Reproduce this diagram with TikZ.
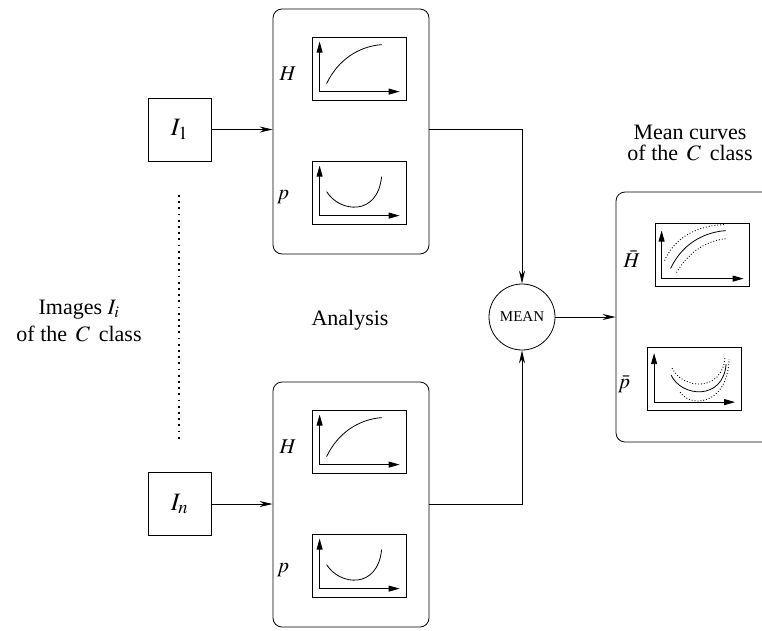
\documentclass[tikz,border=0pt]{standalone}
\usepackage{mathptmx}
\usepackage[no-math]{fontspec}
\setmainfont{Liberation Serif}
\usetikzlibrary{arrows.meta}
\usetikzlibrary{positioning}

\begin{document}
\begin{tikzpicture}[x=1pt,y=-1pt,line width=0.8pt,
  imgbox/.style={draw, minimum width=63, minimum height=63, inner sep=0pt, font=\fontsize{25}{28}\selectfont},
  panel/.style={draw, rounded corners=9pt, minimum width=156, minimum height=245, inner sep=0pt},
  plotbox/.style={draw, minimum width=94, minimum height=63, inner sep=0pt},
  meanbox/.style={draw, circle, minimum size=66, inner sep=0pt, font=\fontsize{15}{17}\selectfont},
  flow/.style={-{Stealth[length=13pt,width=6pt]}},
  axis/.style={-{Stealth[length=11pt,width=6pt,inset=0pt]}},
  dotline/.style={line width=1.3pt, dash pattern=on 1.8pt off 4.4pt},
  spread/.style={dotted, line width=0.9pt},
  curvelbl/.style={font=\fontsize{21}{24}\selectfont},
  txt/.style={align=center, font=\fontsize{22}{27}\selectfont}]
\useasboundingbox (0,0) rectangle (762,630);

% input images
\node[imgbox] (i1) at (179.5,129.5) {$I_1$};
\node[imgbox] (in) at (179.5,504) {$I_n$};
\draw[dotline] (179,195) -- (179,441);
\node[txt] (imgtxt) at (79,321) {Images $I_i$\\of the\hspace{0.4em}$C$\hspace{0.4em}class};

% analysis panels
\foreach \k/\yy in {1/131.5, 2/504.5} {
  \node[panel] (an\k) at (351,\yy) {};
  \node[plotbox] (h\k) at (359,\yy-63) {};
  \node[plotbox] (p\k) at (359,\yy+61) {};
  \node[curvelbl] at (288,\yy-58) {$H$};
  \node[curvelbl] at (283,\yy+66) {$p$};
  \begin{scope}[shift={(h\k.north west)}]
    \draw[axis] (8,55) -- (8,5);
    \draw[axis] (8,55) -- (88,55);
    \draw (15,47) .. controls (26,24) and (46,10) .. (70,8);
  \end{scope}
  \begin{scope}[shift={(p\k.north west)}]
    \draw[axis] (8,55) -- (8,5);
    \draw[axis] (8,55) -- (88,55);
    \draw (15,31) .. controls (28,52) and (66,56) .. (70,16);
  \end{scope}
}
\node[txt] (antxt) at (350,320) {Analysis};

% mean
\node[meanbox] (mean) at (522,317) {MEAN};

% result panel
\node[panel, minimum width=160, minimum height=250] (res) at (696,317) {};
\node[plotbox] (hb) at (702,254.5) {};
\node[plotbox] (pb) at (694.5,379) {};
\node[curvelbl] at (632,259) {$\bar{H}$};
\node[curvelbl] at (624,384) {$\bar{p}$};
\begin{scope}[shift={(hb.north west)}]
  \draw[axis] (7,56) -- (7,8);
  \draw[axis] (7,56) -- (89,56);
  \draw (16,46) .. controls (26,24) and (46,10) .. (71,8);
  \draw[spread] (10,38) .. controls (20,15) and (42,3) .. (70,2);
  \draw[spread] (22,50) .. controls (32,32) and (50,18) .. (72,16);
\end{scope}
\begin{scope}[shift={(pb.north west)}]
  \draw[axis] (7,55) -- (7,6);
  \draw[axis] (7,55) -- (88,55);
  \draw (24,28) .. controls (34,50) and (76,54) .. (79,17);
  \draw[spread] (25,21) .. controls (35,42) and (75,46) .. (78,10);
  \draw[spread] (33,45) .. controls (42,60) and (80,60) .. (82,12);
\end{scope}
\node[txt, font=\fontsize{22}{21}\selectfont] (restxt) at (690,143) {Mean curves\\of the\hspace{0.4em}$C$\hspace{0.4em}class};

% connectors
\draw[flow] (i1.east) -- (i1.east -| an1.west);
\draw[flow] (in.east) -- (in.east -| an2.west);
\draw[flow] (an1.east |- i1.east) -| (mean.north);
\draw[flow] (an2.east |- in.east) -| (mean.south);
\draw[flow] (mean.east) -- (res.west);
\end{tikzpicture}
\end{document}
